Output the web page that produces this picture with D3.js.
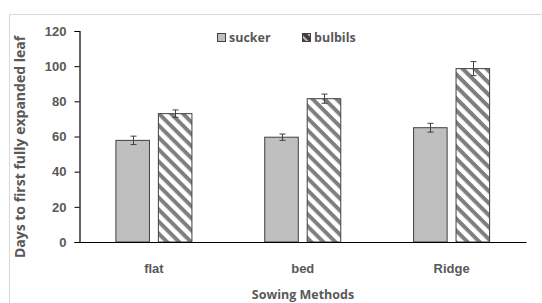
<!DOCTYPE html>
<html>
<head>
<meta charset="utf-8">
<script src="https://cdn.jsdelivr.net/npm/d3@7"></script>
<style>
  body { margin: 0; background: #fff; }
  svg { display: block; font-family: "Open Sans", "Noto Sans", sans-serif; }
  .lbl { fill: #595959; font-weight: bold; }
</style>
</head>
<body>
<svg id="chart" width="542" height="303"></svg>
<script>
// chart data
const methods = [ 'flat', 'bed', 'Ridge' ];
const seriesNames = [ 'sucker', 'bulbils' ];
const suckerValues = [ 57.8, 59.6, 65.0 ];
const suckerErrors = [ 2.4, 1.8, 2.5 ];
const bulbilsValues = [ 73.0, 81.5, 98.6 ];
const bulbilsErrors = [ 2.1, 2.6, 4.0 ];
const yTicks = [ 0, 20, 40, 60, 80, 100, 120 ];

const svg = d3.select( '#chart' );
const margin = { top: 31, left: 79.5, right: 16, bottom: 61 };
const width = 542, height = 303;

// frame like the exported chart area
svg.append( 'rect' )
	.attr( 'x', 9.5 ).attr( 'y', 14.5 )
	.attr( 'width', 560 ).attr( 'height', 320 )
	.attr( 'fill', 'none' ).attr( 'stroke', '#d9d9d9' );

// hatch pattern for bulbils
const defs = svg.append( 'defs' );
const pat = defs.append( 'pattern' )
	.attr( 'id', 'hatch' )
	.attr( 'patternUnits', 'userSpaceOnUse' )
	.attr( 'width', 8.5 ).attr( 'height', 8.5 )
	.attr( 'patternTransform', 'rotate(45)' );
pat.append( 'rect' ).attr( 'width', 8.5 ).attr( 'height', 8.5 ).attr( 'fill', '#fff' );
pat.append( 'rect' ).attr( 'width', 8.5 ).attr( 'height', 4 ).attr( 'fill', '#7f7f7f' );

// small version for the legend key
const patSmall = defs.append( 'pattern' )
	.attr( 'id', 'hatch-small' )
	.attr( 'patternUnits', 'userSpaceOnUse' )
	.attr( 'width', 6 ).attr( 'height', 6 )
	.attr( 'patternTransform', 'translate(302,33) rotate(45)' );
patSmall.append( 'rect' ).attr( 'width', 6 ).attr( 'height', 6 ).attr( 'fill', '#404040' );
patSmall.append( 'rect' ).attr( 'y', 1 ).attr( 'width', 6 ).attr( 'height', 2 ).attr( 'fill', '#bbb' );

const x = d3.scaleBand()
	.domain( methods )
	.range( [ margin.left, width - margin.right ] );
const xInner = d3.scaleBand()
	.domain( seriesNames )
	.range( [ 0, x.bandwidth() ] )
	.paddingInner( 0.21 )
	.paddingOuter( 0.857 );
const y = d3.scaleLinear()
	.domain( [ 0, 120 ] )
	.range( [ height - margin.bottom, margin.top ] );

const fills = { sucker: '#bfbfbf', bulbils: 'url(#hatch)' };
const rows = [];
methods.forEach( ( m, i ) => {
	rows.push( { m, s: 'sucker', v: suckerValues[ i ], e: suckerErrors[ i ] } );
	rows.push( { m, s: 'bulbils', v: bulbilsValues[ i ], e: bulbilsErrors[ i ] } );
} );

// bars
svg.append( 'g' ).selectAll( 'rect' )
	.data( rows )
	.enter()
	.append( 'rect' )
	.attr( 'x', ( d ) => x( d.m ) + xInner( d.s ) )
	.attr( 'y', ( d ) => y( d.v ) )
	.attr( 'width', xInner.bandwidth() )
	.attr( 'height', ( d ) => y( 0 ) - y( d.v ) )
	.attr( 'fill', ( d ) => fills[ d.s ] )
	.attr( 'stroke', '#404040' )
	.attr( 'stroke-width', 1 );

// error bars
const eb = svg.append( 'g' ).attr( 'stroke', '#404040' ).attr( 'stroke-width', 1 );
rows.forEach( ( d ) => {
	const cx = Math.round( x( d.m ) + xInner( d.s ) + xInner.bandwidth() / 2 ) + 0.5;
	eb.append( 'line' ).attr( 'x1', cx ).attr( 'x2', cx )
		.attr( 'y1', y( d.v + d.e ) ).attr( 'y2', y( d.v - d.e ) );
	[ d.v + d.e, d.v - d.e ].forEach( ( v ) => {
		eb.append( 'line' ).attr( 'x1', cx - 3 ).attr( 'x2', cx + 3 )
			.attr( 'y1', y( v ) ).attr( 'y2', y( v ) );
	} );
} );

// y axis
const yAxis = svg.append( 'g' )
	.attr( 'transform', `translate(${ margin.left },0)` )
	.call( d3.axisLeft( y ).tickValues( yTicks ).tickSize( 5 ).tickPadding( 8 ) );
yAxis.select( '.domain' ).attr( 'stroke', '#000' ).attr( 'stroke-width', 1.2 );
yAxis.selectAll( '.tick line' ).attr( 'stroke', '#000' );
yAxis.selectAll( 'text' ).attr( 'class', 'lbl' ).style( 'font-size', '13px' );

// x axis
const xAxis = svg.append( 'g' )
	.attr( 'transform', `translate(0,${ y( 0 ) })` )
	.call( d3.axisBottom( x ).tickSize( 0 ).tickPadding( 22 ) );
xAxis.select( '.domain' ).attr( 'stroke', '#000' ).attr( 'stroke-width', 1.2 );
xAxis.selectAll( 'text' ).attr( 'class', 'lbl' ).style( 'font-size', '13px' );

// axis titles
svg.append( 'text' )
	.attr( 'class', 'lbl' )
	.attr( 'x', 303 ).attr( 'y', 299 )
	.attr( 'text-anchor', 'middle' )
	.style( 'font-size', '12.5px' )
	.text( 'Sowing Methods' );
svg.append( 'text' )
	.attr( 'class', 'lbl' )
	.attr( 'transform', 'translate(25,147) rotate(-90)' )
	.attr( 'text-anchor', 'middle' )
	.style( 'font-size', '14px' )
	.text( 'Days to first fully expanded leaf' );

// legend
const legendX = [ 217, 302 ];
const legendFill = { sucker: '#bfbfbf', bulbils: 'url(#hatch-small)' };
const legend = svg.append( 'g' );
seriesNames.forEach( ( s, i ) => {
	legend.append( 'rect' )
		.attr( 'x', legendX[ i ] + 0.5 ).attr( 'y', 33.5 )
		.attr( 'width', 8 ).attr( 'height', 8 )
		.attr( 'fill', legendFill[ s ] )
		.attr( 'stroke', '#404040' );
	legend.append( 'text' )
		.attr( 'class', 'lbl' )
		.attr( 'x', legendX[ i ] + 12 ).attr( 'y', 42 )
		.style( 'font-size', '12.5px' )
		.text( s );
} );
</script>
</body>
</html>
